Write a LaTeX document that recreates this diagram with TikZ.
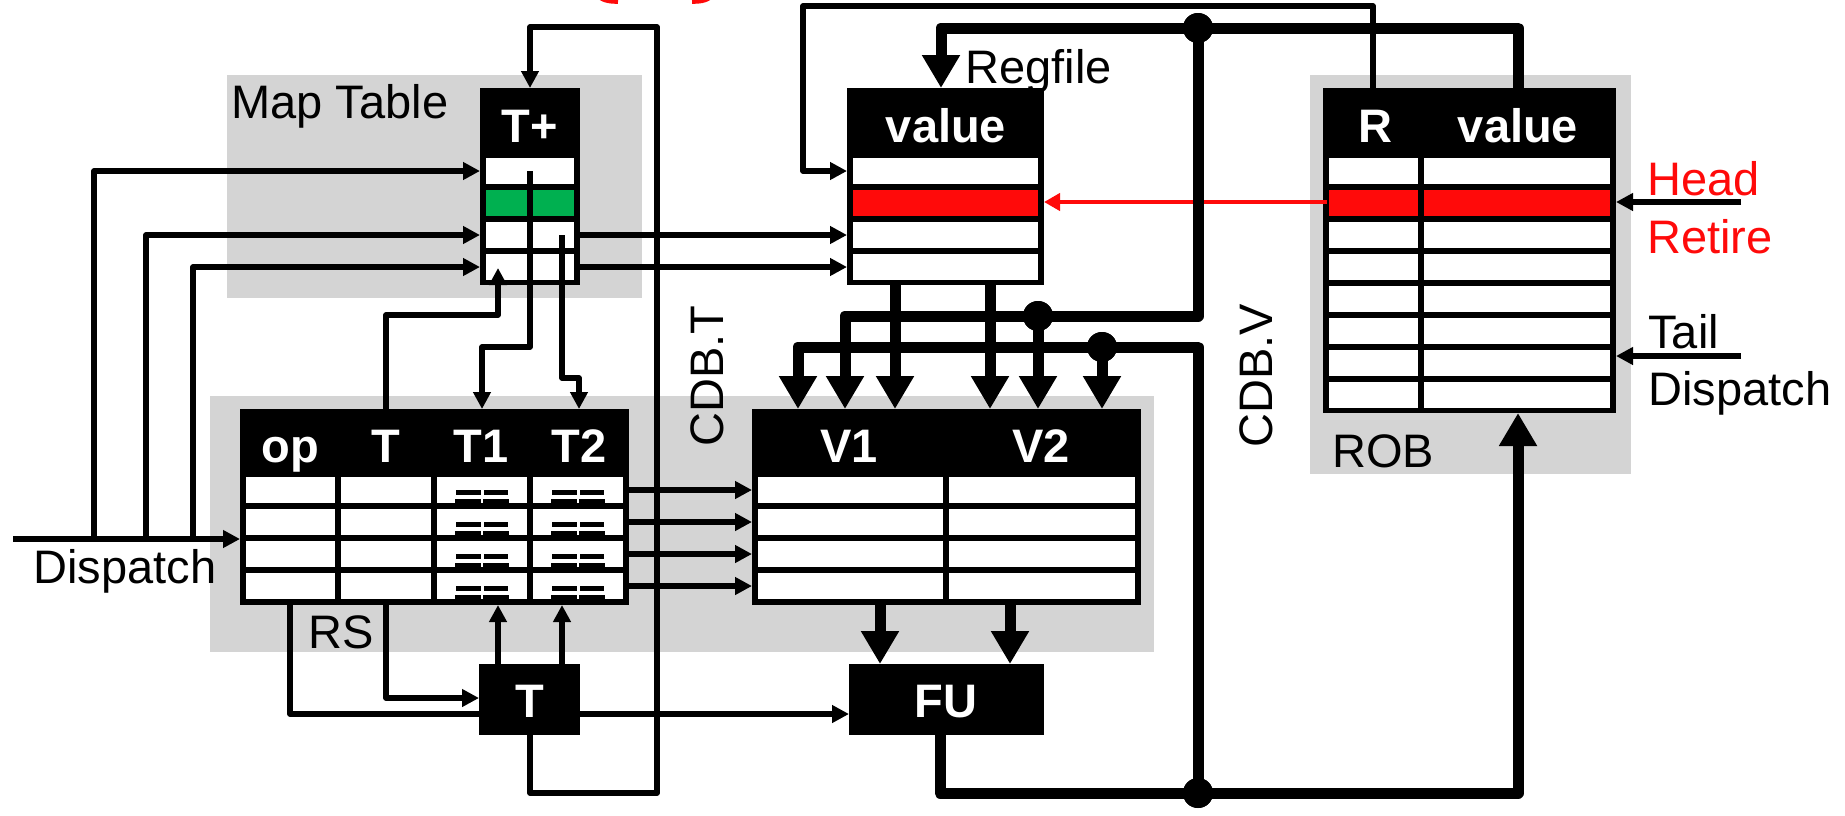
\documentclass[tikz,border=0pt]{standalone}
\usepackage{fontspec}
\setmainfont{Liberation Sans}
\usetikzlibrary{arrows.meta}
\definecolor{bggray}{HTML}{D4D4D4}
\definecolor{mygreen}{HTML}{00B050}
\definecolor{myred}{HTML}{FF0A0A}
\newcommand\myfs{\fontsize{23.5}{28}\selectfont}
\begin{document}
\begin{tikzpicture}[x=0.5pt,y=-0.5pt,
  box/.style={fill=black, draw=none, inner sep=0pt, outer sep=0pt, anchor=north west},
  graybg/.style={fill=bggray, draw=none, inner sep=0pt, outer sep=0pt, anchor=north west},
  thinw/.style={line width=2.75pt, line join=round},
  thickw/.style={line width=5.5pt, line join=round},
  ta/.style={-{Triangle[length=8.5pt,width=8.5pt]}},
  Ta/.style={-{Triangle[length=16.5pt,width=18pt]}},
  hdr/.style={text=white, font=\myfs\bfseries, inner sep=0pt, anchor=base},
  lab/.style={font=\myfs, inner sep=0pt, anchor=base west},
  jdot/.style={circle, fill=black, draw=none, minimum size=15pt, inner sep=0pt}
]
\useasboundingbox (0,0) rectangle (1845,815);
\fill[white] (0,0) rectangle (1845,815);

% red marks at the top edge
\draw[myred, line width=2.8pt] (596,-8) to[out=-60,in=180] (618,1);
\draw[myred, line width=2.8pt] (714,-8) to[out=240,in=0] (692,1);

% gray backgrounds
\node[graybg, minimum width=207.5pt, minimum height=111.5pt] (mtbg) at (227,75) {};
\node[graybg, minimum width=472pt, minimum height=128pt] (rsbg) at (210,396) {};
\node[graybg, minimum width=160.5pt, minimum height=199.5pt] (robbg) at (1310,75) {};

% T+ map table
\node[box, minimum width=50pt, minimum height=98.5pt] (tplus) at (480,88) {};
\foreach \k in {0,...,3} {\fill[white] (486,158+32*\k) rectangle (574,184+32*\k);}
\fill[mygreen] (486,190) rectangle (574,216);

% Regfile
\node[box, minimum width=98.5pt, minimum height=98.5pt] (regf) at (847,88) {};
\foreach \k in {0,...,3} {\fill[white] (853,158+32*\k) rectangle (1038,184+32*\k);}
\fill[myred] (853,190) rectangle (1038,216);

% ROB
\node[box, minimum width=146.5pt, minimum height=162.5pt] (rob) at (1323,88) {};
\foreach \k in {0,...,7} {
  \fill[white] (1329,158+32*\k) rectangle (1418,184+32*\k);
  \fill[white] (1424,158+32*\k) rectangle (1610,184+32*\k);}
\fill[myred] (1329,190) rectangle (1418,216);
\fill[myred] (1424,190) rectangle (1610,216);

% RS
\node[box, minimum width=194.5pt, minimum height=98pt] (rs) at (240,409) {};
\foreach \k in {0,...,3} {
  \fill[white] (246,477+32*\k) rectangle (335,503+32*\k);
  \fill[white] (341,477+32*\k) rectangle (431,503+32*\k);
  \fill[white] (437,477+32*\k) rectangle (527,503+32*\k);
  \fill[white] (533,477+32*\k) rectangle (623,503+32*\k);
  \foreach \c in {482,578} {
    \fill[black] (\c-26,490+32*\k) rectangle (\c-1,495+32*\k);
    \fill[black] (\c+2,490+32*\k) rectangle (\c+26,495+32*\k);
    \fill[black] (\c-27,499+32*\k) rectangle (\c-1,504+32*\k);
    \fill[black] (\c+1,499+32*\k) rectangle (\c+27,504+32*\k);
  }
}

% V1/V2 table
\node[box, minimum width=194.5pt, minimum height=98pt] (vt) at (752,409) {};
\foreach \k in {0,...,3} {
  \fill[white] (758,477+32*\k) rectangle (943,503+32*\k);
  \fill[white] (949,477+32*\k) rectangle (1135,503+32*\k);}

% ---------- thin wires ----------
\coordinate (dstart) at (13,539);
\draw[thinw, ta] (dstart) -- (rs.west |- dstart);
\draw[thinw, ta] (94,539) |- (480,171);
\draw[thinw, ta] (146,539) |- (480,235);
\draw[thinw, ta] (193,539) |- (480,267);
% map table to RS
\draw[thinw, ta] (530,171) -- (530,347) -- (482,347) -- (482,409);
\draw[thinw, ta] (562,235) -- (562,378) -- (579,378) -- (579,409);
\draw[thinw, ta] (386,409) -- (386,315) -- (498,315) -- (498,268);
% map table to regfile
\draw[thinw, ta] (tplus.east |- 0,235) -- (regf.west |- 0,235);
\draw[thinw, ta] (tplus.east |- 0,267) -- (regf.west |- 0,267);
% ROB R to regfile
\draw[thinw, ta] (1373,88) -- (1373,6) -- (803,6) -- (803,171) -- (regf.west |- 0,171);
% RS to V table
\foreach \y in {490,522,554,586} {\draw[thinw, ta] (rs.east |- 0,\y) -- (vt.west |- 0,\y);}
% RS to T box / FU
\draw[thinw, ta] (386,605) -- (386,698) -- (479,698);
\draw[thinw, ta] (290,605) -- (290,714) -- (849,714);
% Head / Tail
\draw[thinw, ta] (1741,202) -- (rob.east |- 0,202);
\draw[thinw, ta] (1741,356) -- (rob.east |- 0,356);
% red retire arrow
\draw[myred, line width=2pt, -{Triangle[length=8pt,width=8.5pt]}] (1327,202) -- (regf.east |- 0,202);

% T box and FU
\node[box, minimum width=50.5pt, minimum height=35.5pt] (tbox) at (479,664) {};
\node[box, minimum width=97.5pt, minimum height=35.5pt] (fu) at (849,664) {};
\draw[thinw, ta] (498,664) -- (498,605);
\draw[thinw, ta] (562,664) -- (562,605);
% CDB.T loop
\draw[thinw, ta] (530,735) -- (530,793) -- (657,793) -- (657,27) -- (530,27) -- (tplus.north);

% ---------- thick wires ----------
\node[jdot] (j1) at (1198,28) {};
\node[jdot] (j2) at (1038,316) {};
\node[jdot] (j3) at (1102,347) {};
\node[jdot] (j4) at (1198,793) {};
\draw[thickw, Ta] (1518,88) -- (1518,28) -- (941,28) -- (941,88);
\draw[thickw, Ta] (j1.center) -- (1198,316) -- (845,316) -- (845,409);
\draw[thickw, Ta] (j2.center) -- (1038,409);
\draw[thickw, Ta] (895,285) -- (895,409);
\draw[thickw, Ta] (990,285) -- (990,409);
\draw[thickw, Ta] (940,735) -- (940,793) -- (1518,793) -- (1518,413);
\draw[thickw, Ta] (j4.center) -- (1198,347) -- (798,347) -- (798,409);
\draw[thickw, Ta] (j3.center) -- (1102,409);
\draw[thickw, Ta] (880,605) -- (880,664);
\draw[thickw, Ta] (1010,605) -- (1010,664);
\node[jdot] at (j1) {};
\node[jdot] at (j2) {};
\node[jdot] at (j3) {};
\node[jdot] at (j4) {};

% ---------- texts ----------
\node[hdr] (h1) at (530,142) {T+};
\node[hdr] (h2) at (946,142) {value};
\node[hdr] (h3) at (1375,142) {R};
\node[hdr] (h4) at (1518,142) {value};
\node[hdr] (h5) at (290,462) {op};
\node[hdr] (h6) at (386,462) {T};
\node[hdr] (h7) at (481,462) {T1};
\node[hdr] (h8) at (579,462) {T2};
\node[hdr] (h9) at (849,462) {V1};
\node[hdr] (h10) at (1041,462) {V2};
\node[hdr] (h11) at (530,717) {T};
\node[hdr] (h12) at (946,717) {FU};

\node[lab] (l1) at (231,118) {Map Table};
\node[lab] (l2) at (965,83) {Regfile};
\node[lab, text=myred] (l3) at (1647,195) {Head};
\node[lab, text=myred] (l4) at (1647,253) {Retire};
\node[lab] (l5) at (1648,348) {Tail};
\node[lab] (l6) at (1648,405) {Dispatch};
\node[lab] (l7) at (1332,467) {ROB};
\node[lab] (l8) at (308,648) {RS};
\node[lab] (l9) at (33,583) {Dispatch};
\node[font=\myfs, inner sep=0pt, anchor=base, rotate=90] (l10) at (723,376) {CDB.T};
\node[font=\myfs, inner sep=0pt, anchor=base, rotate=90] (l11) at (1272,376) {CDB.V};
\end{tikzpicture}
\end{document}
